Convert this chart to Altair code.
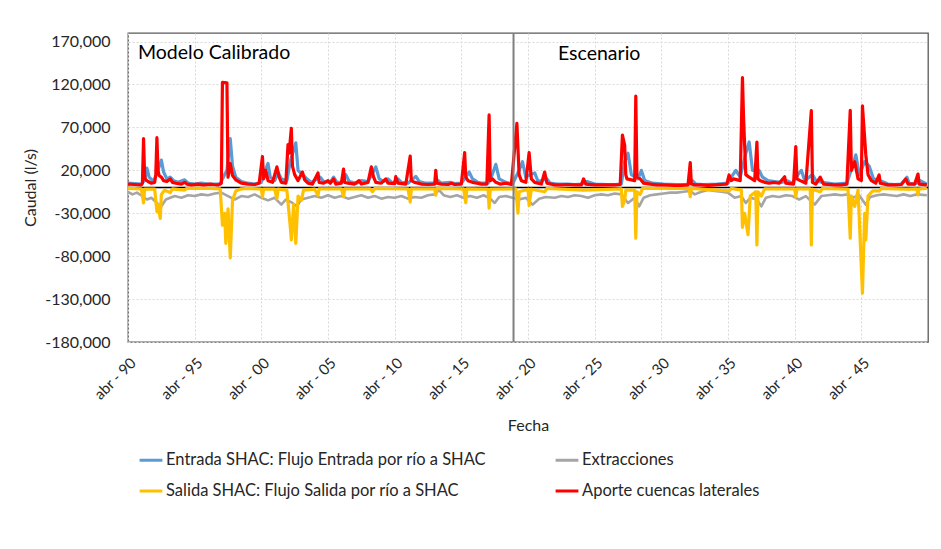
import altair as alt
import pandas as pd

SERIES = [
    "Entrada SHAC: Flujo Entrada por río a SHAC",
    "Extracciones",
    "Salida SHAC: Flujo Salida por río a SHAC",
    "Aporte cuencas laterales",
]
COLORS = ["#5B9BD5", "#A5A5A5", "#FFC000", "#FF0000"]
PANEL_LABELS = ["Modelo Calibrado", "Escenario"]
DIVIDER = "2019-03-01"
Y_TICKS = [-180000, -130000, -80000, -30000, 20000, 70000, 120000, 170000]
X_TICK_YEARS = [1990, 1995, 2000, 2005, 2010, 2015, 2020, 2025, 2030, 2035, 2040, 2045]

# Aporte cuencas laterales (red)
red_t = ["1990-04","1990-10","1991-04","1991-05","1991-06","1991-07","1991-08","1991-10","1992-01","1992-04",
         "1992-05","1992-06","1992-07","1992-08","1992-10","1992-12","1993-03","1993-06","1993-08","1993-11",
         "1994-04","1994-07","1994-09","1995-01","1995-07","1995-12","1996-06","1996-09","1997-01","1997-04",
         "1997-05","1997-09","1997-10","1997-12","1998-02","1998-05","1998-10","1999-04","1999-10","2000-02",
         "2000-05","2000-06","2000-08","2000-10","2001-02","2001-06","2001-08","2001-10","2002-02","2002-04",
         "2002-05","2002-07","2002-08","2002-10","2003-01","2003-05","2003-07","2003-10","2004-02","2004-07",
         "2004-08","2004-12","2005-04","2005-06","2005-09","2005-11","2006-04","2006-06","2006-07","2006-10",
         "2007-04","2007-08","2007-10","2008-04","2008-07","2008-09","2008-11","2009-04","2009-08","2009-10",
         "2010-04","2010-05","2010-07","2011-02","2011-06","2011-07","2011-10","2012-04","2012-10","2013-04",
         "2013-05","2013-06","2013-10","2014-04","2014-07","2014-10","2015-04","2015-07","2015-08","2015-10",
         "2016-02","2016-06","2016-10","2017-03","2017-05","2017-06","2017-08","2017-11","2018-03","2018-08",
         "2019-01","2019-06","2019-08","2019-10","2020-02","2020-05","2020-07","2020-10","2021-04","2021-07",
         "2021-09","2022-04","2022-10","2023-04","2023-10","2024-04","2024-06","2024-08","2025-04","2025-10",
         "2026-04","2026-10","2027-03","2027-05","2027-07","2027-08","2027-09","2028-04","2028-05","2028-06",
         "2028-09","2028-12","2029-06","2029-12","2030-06","2031-04","2031-10","2032-04","2032-06","2032-07",
         "2032-10","2033-04","2033-10","2034-04","2034-10","2035-03","2035-05","2035-07","2035-09","2036-03",
         "2036-05","2036-06","2036-08","2036-11","2037-04","2037-06","2037-07","2037-09","2038-01","2038-05",
         "2038-09","2039-02","2039-07","2039-08","2040-03","2040-05","2040-06","2040-09","2041-02","2041-07",
         "2041-08","2041-11","2042-03","2042-06","2043-04","2043-10","2044-03","2044-06","2044-07","2044-10",
         "2045-01","2045-04","2045-05","2045-08","2045-10","2046-01","2046-05","2046-08","2046-09","2047-04",
         "2047-10","2048-04","2048-08","2048-10","2049-04","2049-07","2049-08","2050-03"]
red_v = [4000,3500,3000,5000,57000,12000,9000,7000,5000,6000,
         15000,58000,20000,14000,12000,8000,7000,10000,6000,5000,
         4000,6000,4000,3000,4000,3000,4000,3500,3000,5000,
         122500,122000,12000,28000,14000,9000,5000,4000,3500,5000,
         36000,10000,20000,8000,6000,24000,12000,6000,5000,50000,
         40000,69000,25000,15000,8000,18000,9000,5000,4000,17000,
         6000,5000,8000,5000,10000,4000,5000,21500,6000,5000,
         4000,8000,4000,6000,24000,12000,6000,5000,10000,5000,
         4500,12600,5000,4000,36700,8000,6000,4000,3500,4000,
         20000,5000,4000,3500,5000,3500,4000,40600,12000,8000,
         6000,5000,4000,4000,84500,8000,10000,6000,4000,5000,
         3500,74800,15000,8000,6000,40600,10000,6000,4000,18000,
         5000,3000,3000,3500,3000,3000,10000,4000,3000,3000,
         3000,3000,3500,61000,49500,15000,10000,8000,106600,12000,
         10000,5000,4000,3000,3000,2500,2500,3000,29000,4000,
         3000,3000,2500,3000,3500,4000,14600,8000,10000,8000,
         128000,80600,15000,12000,8000,53000,10000,8000,6000,5000,
         6000,5000,12600,5000,4000,47600,10000,8000,5000,89500,
         6000,4000,12000,4000,3000,3000,4000,90000,20000,30000,
         10000,8000,95000,38000,15000,8000,5000,14600,5000,3000,
         3000,3500,10000,4000,4000,15700,4000,3000]

# Entrada SHAC (blue)
blue_t = ["1990-04","1991-04","1991-07","1991-09","1991-11","1992-03","1992-07","1992-10","1992-12","1993-03",
          "1993-06","1993-09","1994-01","1994-07","1994-10","1995-04","1995-10","1996-04","1996-10","1997-03",
          "1997-05","1997-09","1997-12","1998-02","1998-05","1998-10","1999-04","1999-10","2000-04","2000-06",
          "2000-10","2000-12","2001-04","2001-07","2001-10","2002-03","2002-06","2002-11","2003-01","2003-05",
          "2003-09","2004-01","2004-09","2004-12","2005-06","2005-09","2005-12","2006-04","2006-08","2006-11",
          "2007-06","2007-10","2008-04","2008-11","2009-02","2009-06","2009-10","2010-02","2010-07","2010-10",
          "2011-04","2011-11","2012-02","2012-08","2013-04","2013-07","2013-10","2014-06","2014-10","2015-04",
          "2015-08","2015-11","2016-02","2016-07","2016-11","2017-04","2017-07","2017-11","2018-02","2018-08",
          "2019-02","2019-08","2019-11","2020-02","2020-06","2020-10","2021-01","2021-09","2021-12","2022-06",
          "2023-04","2023-10","2024-04","2024-09","2025-04","2026-04","2026-10","2027-04","2027-07","2027-10",
          "2028-01","2028-07","2028-10","2029-01","2029-08","2030-06","2031-06","2032-04","2032-08","2032-11",
          "2033-06","2034-06","2035-04","2035-07","2035-11","2036-03","2036-08","2036-11","2037-02","2037-08",
          "2037-11","2038-04","2038-10","2039-04","2039-09","2040-02","2040-07","2040-10","2041-01","2041-08",
          "2041-11","2042-05","2043-04","2044-03","2044-08","2044-11","2045-02","2045-07","2045-11","2046-03",
          "2046-09","2047-04","2047-10","2048-04","2048-09","2048-11","2049-04","2049-09","2050-03"]
blue_v = [5000,4000,8000,22700,12000,7000,20000,32000,18000,10000,
          12000,8000,6000,9000,5000,4000,5000,4000,4000,4000,
          10000,20000,57000,25000,12000,7000,5000,4000,6000,15000,
          28000,12000,8000,18000,10000,8000,30000,52000,20000,15000,
          10000,6000,12000,7000,6000,12000,6000,6000,15000,7000,
          5000,8000,7000,24000,10000,7000,10000,5000,10000,6000,
          5000,13000,7000,5000,5000,8000,5000,6000,4500,5000,
          12000,18000,10000,6000,5000,5000,12000,27000,10000,6000,
          4000,20000,30000,12000,15000,17000,7000,10000,5000,4000,
          4000,3500,4000,7000,4000,3500,3500,4000,30000,40000,
          15000,10000,20000,8000,5000,4000,3500,3500,8000,4000,
          3500,4000,5000,12000,20000,12000,40000,53000,20000,20000,
          12000,8000,7000,6000,8000,5000,15000,20000,8000,15000,
          8000,6000,4000,5000,25000,38000,15000,30000,25000,10000,
          8000,4000,3500,4000,12000,5000,4000,8000,4000]

# Salida SHAC (yellow)
yel_t = ["1990-04","1991-04","1991-06","1991-07","1992-04","1992-06","1992-07","1992-09","1992-10","1993-01",
         "1993-06","1993-08","1994-07","1994-09","1995-06","1996-06","1997-03","1997-05","1997-07","1997-08",
         "1997-10","1997-12","1998-02","1998-05","1998-10","1999-06","2000-04","2000-05","2000-06","2001-04",
         "2001-06","2001-07","2002-03","2002-06","2002-07","2002-09","2002-11","2003-01","2003-04","2003-06",
         "2004-04","2004-07","2004-08","2006-04","2006-06","2006-07","2008-06","2008-08","2008-10","2011-04",
         "2011-06","2011-07","2013-04","2013-05","2013-06","2015-06","2015-08","2015-09","2017-04","2017-05",
         "2017-06","2019-05","2019-07","2019-08","2020-04","2020-05","2020-07","2021-07","2021-09","2024-06",
         "2027-04","2027-05","2027-07","2027-08","2028-04","2028-05","2028-06","2028-09","2028-11","2032-05",
         "2032-06","2032-07","2035-05","2035-07","2036-04","2036-05","2036-07","2036-10","2036-12","2037-05",
         "2037-06","2037-07","2037-10","2038-01","2040-04","2040-05","2040-06","2041-06","2041-07","2041-08",
         "2042-03","2042-05","2044-04","2044-06","2044-07","2044-10","2045-01","2045-05","2045-07","2045-08",
         "2045-10","2046-02","2046-08","2046-10","2048-08","2049-06","2049-07","2049-08","2050-03"]
yel_v = [-1000,-1500,-18000,-2000,-2000,-28000,-20000,-36000,-8000,-3000,
         -6000,-1500,-3000,-1000,-1000,-1000,-1500,-44000,-30000,-65000,
         -25000,-82000,-15000,-4000,-1500,-1000,-2000,-11000,-2000,-2000,
         -13000,-2000,-3000,-45000,-61000,-20000,-65000,-10000,-15000,-3000,
         -2000,-9000,-1500,-1500,-10700,-1500,-1500,-5000,-1000,-1500,
         -17000,-1500,-1500,-9000,-1000,-1500,-17700,-1500,-2000,-24000,
         -2000,-1500,-30000,-5000,-2000,-21000,-2000,-5000,-1000,-3000,
         -1500,-22000,-15000,-3000,-3000,-59000,-5000,-8000,-1000,-1000,
         -10700,-1000,-4000,-1000,-3000,-46400,-30000,-55000,-10000,-5000,
         -67000,-5000,-10000,-1500,-1500,-11000,-1500,-1500,-67000,-2000,
         -5000,-1000,-2000,-59000,-10000,-22000,-3000,-123000,-30000,-61000,
         -10000,-4000,-4000,-1000,-2000,-1500,-8700,-1500,-1000]

# Extracciones (gray)
gray_t = ["1990-04","1990-08","1990-12","1991-05","1991-09","1992-01","1992-06","1992-10","1993-02","1993-06",
          "1993-10","1994-04","1994-10","1995-04","1995-10","1996-04","1996-10","1997-04","1997-10","1998-04",
          "1998-10","1999-04","1999-10","2000-04","2000-10","2001-04","2001-10","2002-02","2002-08","2002-12",
          "2003-04","2003-10","2004-04","2004-10","2005-04","2005-10","2006-04","2006-10","2007-04","2007-10",
          "2008-04","2008-10","2009-04","2009-10","2010-04","2010-10","2011-04","2011-10","2012-04","2012-10",
          "2013-04","2013-08","2013-12","2014-06","2014-12","2015-06","2015-12","2016-06","2016-12","2017-06",
          "2017-10","2018-02","2018-08","2019-02","2019-08","2020-02","2020-08","2021-02","2021-08","2022-04",
          "2022-10","2023-04","2023-10","2024-04","2024-10","2025-04","2025-10","2026-04","2026-10","2027-04",
          "2027-10","2028-04","2028-08","2028-12","2029-06","2029-12","2030-06","2030-12","2031-06","2031-12",
          "2032-06","2032-10","2033-04","2033-10","2034-04","2034-10","2035-04","2035-10","2036-04","2036-08",
          "2036-12","2037-06","2037-10","2038-02","2038-08","2039-02","2039-08","2040-02","2040-08","2041-02",
          "2041-10","2042-04","2042-10","2043-04","2043-10","2044-04","2044-08","2045-02","2045-08","2045-12",
          "2046-06","2046-12","2047-06","2047-12","2048-06","2048-12","2049-06","2050-03"]
gray_v = [-5000,-8000,-6000,-10000,-14000,-12000,-18000,-22000,-14000,-12000,
          -10000,-12000,-9000,-10000,-8000,-9000,-7000,-6000,-10000,-14000,
          -10000,-11000,-8000,-12000,-15000,-12000,-20000,-14000,-18000,-22000,
          -14000,-12000,-10000,-12000,-9000,-12000,-10000,-13000,-11000,-9000,
          -12000,-10000,-13000,-11000,-12000,-10000,-13000,-11000,-12000,-9000,
          -8000,-3000,-9000,-11000,-9000,-12000,-10000,-12000,-9000,-13000,
          -18000,-11000,-10000,-12000,-14000,-12000,-20000,-13000,-11000,-12000,
          -10000,-11000,-9000,-10000,-12000,-9000,-8000,-9000,-7000,-8000,
          -18000,-12000,-22000,-12000,-9000,-8000,-7000,-6000,-6000,-5000,
          -4000,-8000,-5000,-3000,-4000,-5000,-6000,-12000,-10000,-18000,
          -12000,-14000,-22000,-12000,-10000,-11000,-9000,-10000,-14000,-10000,
          -20000,-10000,-9000,-8000,-9000,-8000,-12000,-9000,-20000,-11000,
          -9000,-8000,-9000,-10000,-8000,-10000,-8000,-9000]

def frame(ts, vs, name):
    return pd.DataFrame({"fecha": [t + "-01" for t in ts], "caudal": vs, "serie": name})

data = pd.concat([
    frame(blue_t, blue_v, SERIES[0]),
    frame(gray_t, gray_v, SERIES[1]),
    frame(yel_t, yel_v, SERIES[2]),
    frame(red_t, red_v, SERIES[3]),
], ignore_index=True)

FONT = "Lato"
TXT = "#262626"

x_scale = alt.Scale(type="utc", domain=[alt.DateTime(year=1990, month=4, date=1, utc=True),
                                         alt.DateTime(year=2050, month=4, date=1, utc=True)])
x_axis = alt.Axis(values=[alt.DateTime(year=y, month=4, date=1, utc=True) for y in X_TICK_YEARS],
                  labelExpr="'abr - ' + utcFormat(datum.value, '%y')",
                  labelAngle=-45, labelPadding=13, titlePadding=15, ticks=False, tickSize=0,
                  labelFontSize=15, domain=False, title="Fecha")
y_scale = alt.Scale(domain=[-180000, 180000], nice=False, zero=False)
y_axis = alt.Axis(values=Y_TICKS, labelExpr="replace(format(datum.value, ',.0f'), '\u2212', '-')",
                  title="Caudal (l/s)", labelPadding=18,
                  ticks=False, tickSize=0, domain=False, titlePadding=6, labelFontSize=16)

color = alt.Color("serie:N", scale=alt.Scale(domain=SERIES, range=COLORS),
                  legend=alt.Legend(orient="none", legendX=10, legendY=414, columns=2, title=None,
                                    symbolType="stroke", symbolStrokeWidth=3, symbolSize=520,
                                    labelFontSize=16.5, labelFont=FONT, labelColor=TXT, labelLimit=420,
                                    rowPadding=9, columnPadding=63, labelOffset=2, direction="horizontal"))

layers = []
zero = alt.Chart(pd.DataFrame({"y": [0]})).mark_rule(color="black", strokeWidth=1.5).encode(y=alt.Y("y:Q", scale=y_scale, axis=y_axis))
layers.append(zero)
for i, s in enumerate(SERIES):
    w = 2.6 if i == 1 else 3.2
    layers.append(
        alt.Chart(data).transform_filter(alt.datum.serie == s).mark_line(strokeWidth=w, strokeJoin="round")
        .encode(x=alt.X("fecha:T", scale=x_scale, axis=x_axis),
                y=alt.Y("caudal:Q", scale=y_scale, axis=y_axis),
                color=color)
    )
divider = alt.Chart(pd.DataFrame({"fecha": [DIVIDER]})).mark_rule(color="#7F7F7F", strokeWidth=2).encode(
    x=alt.X("fecha:T", scale=x_scale, axis=x_axis))
layers.append(divider)

lbl = pd.DataFrame({"t": PANEL_LABELS, "px": [10, 430], "py": [20, 21]})
txt = alt.Chart(lbl).mark_text(align="left", baseline="middle", fontSize=19.5, font=FONT, color="black").encode(
    x=alt.X("px:Q", scale=None), y=alt.Y("py:Q", scale=None), text="t:N")
layers.append(txt)

chart = alt.layer(*layers).properties(
    width=800, height=309,
    autosize=alt.AutoSizeParams(type="none"),
    padding={"left": 120, "top": 25, "right": 5, "bottom": 190},
).configure_axis(
    labelFont=FONT, labelColor=TXT, titleFont=FONT, titleFontSize=16,
    titleColor=TXT, titleFontWeight="normal", gridColor="#D9D9D9", gridDash=[2, 2], gridWidth=1,
).configure_view(stroke="#595959", strokeWidth=1.3)

chart.save("out.html", embed_options={"renderer": "svg", "actions": False})
